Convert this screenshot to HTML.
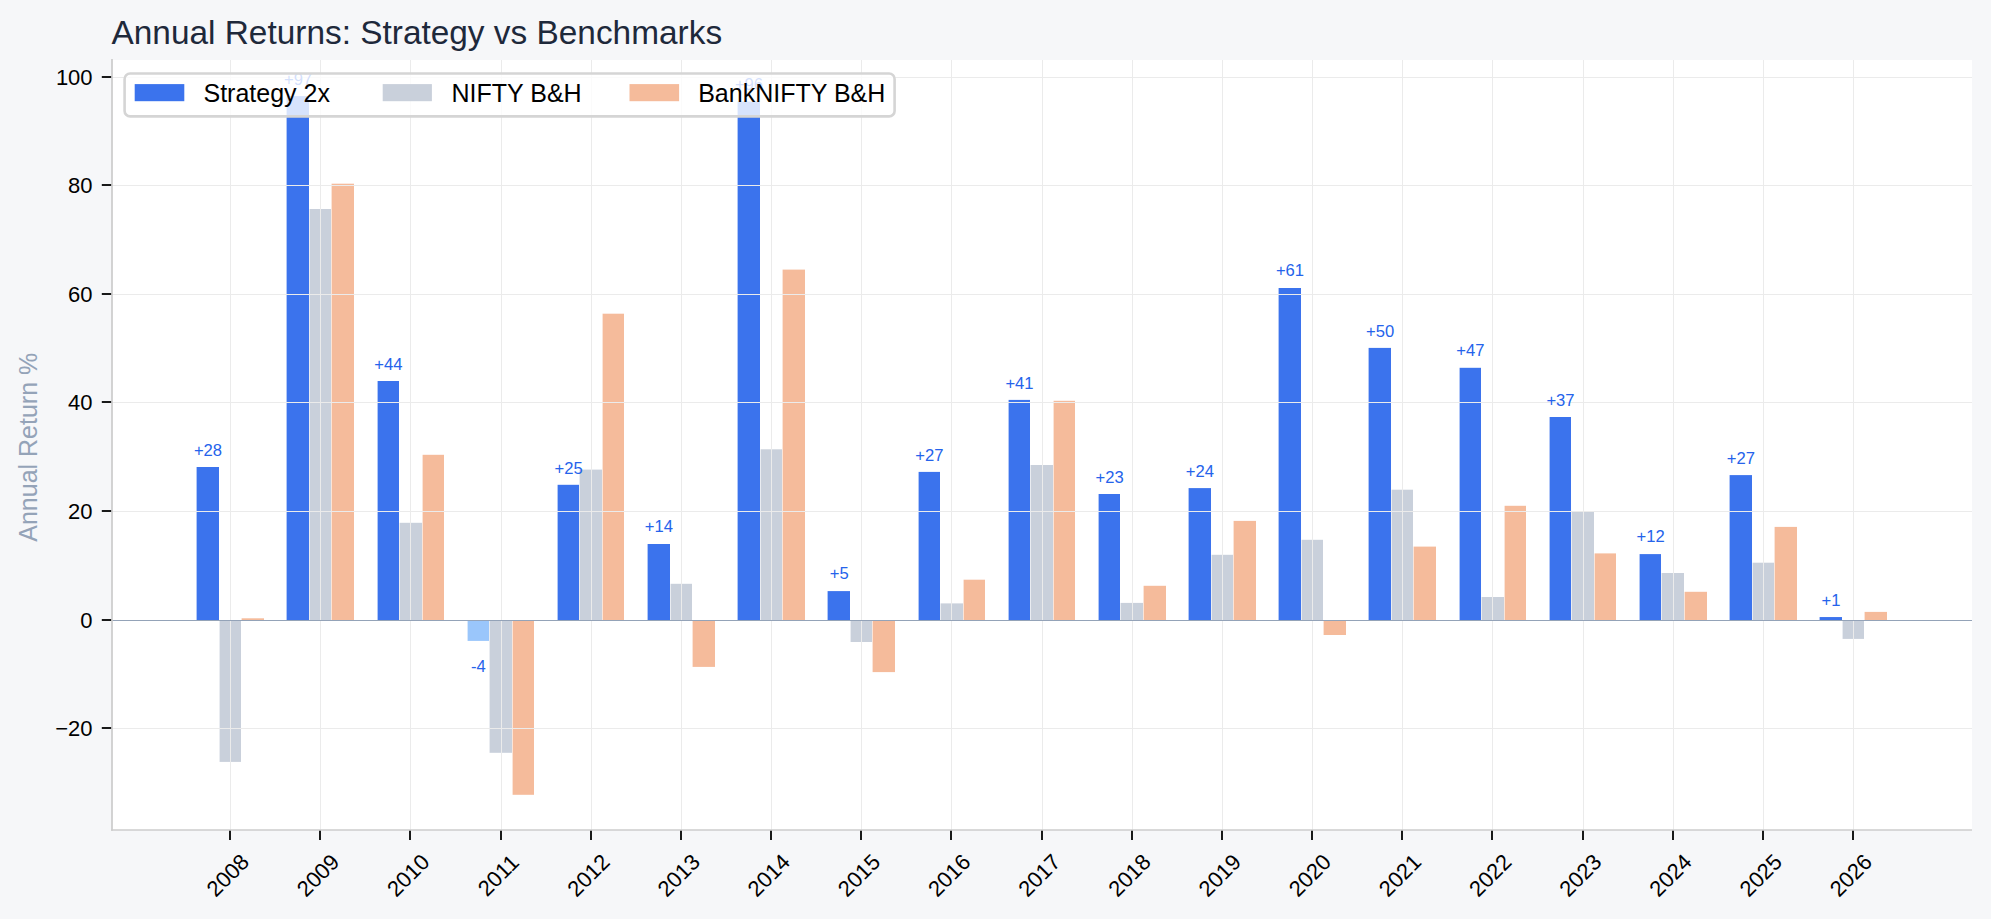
<!DOCTYPE html><html><head><meta charset="utf-8"><style>html,body{margin:0;padding:0;background:#f6f7f9;overflow:hidden}svg{display:block}text{font-family:"Liberation Sans", sans-serif;}</style></head><body>
<svg width="1991" height="919" viewBox="0 0 1991 919">
<rect x="0" y="0" width="1991" height="919" fill="#f6f7f9"/>
<rect x="112" y="60" width="1860" height="770" fill="#ffffff"/>
<rect x="197.00" y="467.00" width="22.00" height="153.00" fill="#3b73ed"/>
<rect x="196.00" y="467.00" width="1.00" height="153.00" fill="#3b73ed" fill-opacity="0.4"/>
<rect x="220.00" y="621.00" width="21.00" height="140.90" fill="#c9d0db"/>
<rect x="219.00" y="621.00" width="1.00" height="140.90" fill="#c9d0db" fill-opacity="0.4"/>
<rect x="242.00" y="618.30" width="22.00" height="1.70" fill="#f5bb9b"/>
<rect x="241.00" y="618.30" width="1.00" height="1.70" fill="#f5bb9b" fill-opacity="0.4"/>
<rect x="287.00" y="96.10" width="22.00" height="523.90" fill="#3b73ed"/>
<rect x="286.00" y="96.10" width="1.00" height="523.90" fill="#3b73ed" fill-opacity="0.4"/>
<rect x="310.00" y="209.00" width="21.00" height="411.00" fill="#c9d0db"/>
<rect x="309.00" y="209.00" width="1.00" height="411.00" fill="#c9d0db" fill-opacity="0.4"/>
<rect x="332.00" y="183.70" width="22.00" height="436.30" fill="#f5bb9b"/>
<rect x="331.00" y="183.70" width="1.00" height="436.30" fill="#f5bb9b" fill-opacity="0.4"/>
<rect x="378.00" y="381.00" width="21.00" height="239.00" fill="#3b73ed"/>
<rect x="377.00" y="381.00" width="1.00" height="239.00" fill="#3b73ed" fill-opacity="0.4"/>
<rect x="400.00" y="522.80" width="22.00" height="97.20" fill="#c9d0db"/>
<rect x="399.00" y="522.80" width="1.00" height="97.20" fill="#c9d0db" fill-opacity="0.4"/>
<rect x="423.00" y="454.80" width="21.00" height="165.20" fill="#f5bb9b"/>
<rect x="422.00" y="454.80" width="1.00" height="165.20" fill="#f5bb9b" fill-opacity="0.4"/>
<rect x="468.00" y="621.00" width="21.00" height="19.90" fill="#9ac6fb"/>
<rect x="467.00" y="621.00" width="1.00" height="19.90" fill="#9ac6fb" fill-opacity="0.4"/>
<rect x="490.00" y="621.00" width="22.00" height="131.80" fill="#c9d0db"/>
<rect x="489.00" y="621.00" width="1.00" height="131.80" fill="#c9d0db" fill-opacity="0.4"/>
<rect x="513.00" y="621.00" width="21.00" height="173.80" fill="#f5bb9b"/>
<rect x="512.00" y="621.00" width="1.00" height="173.80" fill="#f5bb9b" fill-opacity="0.4"/>
<rect x="558.00" y="484.80" width="21.00" height="135.20" fill="#3b73ed"/>
<rect x="557.00" y="484.80" width="1.00" height="135.20" fill="#3b73ed" fill-opacity="0.4"/>
<rect x="580.00" y="469.60" width="22.00" height="150.40" fill="#c9d0db"/>
<rect x="579.00" y="469.60" width="1.00" height="150.40" fill="#c9d0db" fill-opacity="0.4"/>
<rect x="603.00" y="313.70" width="21.00" height="306.30" fill="#f5bb9b"/>
<rect x="602.00" y="313.70" width="1.00" height="306.30" fill="#f5bb9b" fill-opacity="0.4"/>
<rect x="648.00" y="544.00" width="22.00" height="76.00" fill="#3b73ed"/>
<rect x="647.00" y="544.00" width="1.00" height="76.00" fill="#3b73ed" fill-opacity="0.4"/>
<rect x="671.00" y="583.80" width="21.00" height="36.20" fill="#c9d0db"/>
<rect x="670.00" y="583.80" width="1.00" height="36.20" fill="#c9d0db" fill-opacity="0.4"/>
<rect x="693.00" y="621.00" width="22.00" height="45.90" fill="#f5bb9b"/>
<rect x="692.00" y="621.00" width="1.00" height="45.90" fill="#f5bb9b" fill-opacity="0.4"/>
<rect x="738.00" y="101.50" width="22.00" height="518.50" fill="#3b73ed"/>
<rect x="737.00" y="101.50" width="1.00" height="518.50" fill="#3b73ed" fill-opacity="0.4"/>
<rect x="761.00" y="449.30" width="21.00" height="170.70" fill="#c9d0db"/>
<rect x="760.00" y="449.30" width="1.00" height="170.70" fill="#c9d0db" fill-opacity="0.4"/>
<rect x="783.00" y="269.60" width="22.00" height="350.40" fill="#f5bb9b"/>
<rect x="782.00" y="269.60" width="1.00" height="350.40" fill="#f5bb9b" fill-opacity="0.4"/>
<rect x="828.00" y="591.10" width="22.00" height="28.90" fill="#3b73ed"/>
<rect x="827.00" y="591.10" width="1.00" height="28.90" fill="#3b73ed" fill-opacity="0.4"/>
<rect x="851.00" y="621.00" width="21.00" height="21.00" fill="#c9d0db"/>
<rect x="850.00" y="621.00" width="1.00" height="21.00" fill="#c9d0db" fill-opacity="0.4"/>
<rect x="873.00" y="621.00" width="22.00" height="51.10" fill="#f5bb9b"/>
<rect x="872.00" y="621.00" width="1.00" height="51.10" fill="#f5bb9b" fill-opacity="0.4"/>
<rect x="919.00" y="471.90" width="21.00" height="148.10" fill="#3b73ed"/>
<rect x="918.00" y="471.90" width="1.00" height="148.10" fill="#3b73ed" fill-opacity="0.4"/>
<rect x="941.00" y="603.40" width="22.00" height="16.60" fill="#c9d0db"/>
<rect x="940.00" y="603.40" width="1.00" height="16.60" fill="#c9d0db" fill-opacity="0.4"/>
<rect x="964.00" y="579.70" width="21.00" height="40.30" fill="#f5bb9b"/>
<rect x="963.00" y="579.70" width="1.00" height="40.30" fill="#f5bb9b" fill-opacity="0.4"/>
<rect x="1009.00" y="399.90" width="21.00" height="220.10" fill="#3b73ed"/>
<rect x="1008.00" y="399.90" width="1.00" height="220.10" fill="#3b73ed" fill-opacity="0.4"/>
<rect x="1031.00" y="465.00" width="22.00" height="155.00" fill="#c9d0db"/>
<rect x="1030.00" y="465.00" width="1.00" height="155.00" fill="#c9d0db" fill-opacity="0.4"/>
<rect x="1054.00" y="400.80" width="21.00" height="219.20" fill="#f5bb9b"/>
<rect x="1053.00" y="400.80" width="1.00" height="219.20" fill="#f5bb9b" fill-opacity="0.4"/>
<rect x="1099.00" y="494.00" width="21.00" height="126.00" fill="#3b73ed"/>
<rect x="1098.00" y="494.00" width="1.00" height="126.00" fill="#3b73ed" fill-opacity="0.4"/>
<rect x="1121.00" y="602.90" width="22.00" height="17.10" fill="#c9d0db"/>
<rect x="1120.00" y="602.90" width="1.00" height="17.10" fill="#c9d0db" fill-opacity="0.4"/>
<rect x="1144.00" y="585.80" width="22.00" height="34.20" fill="#f5bb9b"/>
<rect x="1143.00" y="585.80" width="1.00" height="34.20" fill="#f5bb9b" fill-opacity="0.4"/>
<rect x="1189.00" y="488.10" width="22.00" height="131.90" fill="#3b73ed"/>
<rect x="1188.00" y="488.10" width="1.00" height="131.90" fill="#3b73ed" fill-opacity="0.4"/>
<rect x="1212.00" y="554.80" width="21.00" height="65.20" fill="#c9d0db"/>
<rect x="1211.00" y="554.80" width="1.00" height="65.20" fill="#c9d0db" fill-opacity="0.4"/>
<rect x="1234.00" y="520.90" width="22.00" height="99.10" fill="#f5bb9b"/>
<rect x="1233.00" y="520.90" width="1.00" height="99.10" fill="#f5bb9b" fill-opacity="0.4"/>
<rect x="1279.00" y="288.00" width="22.00" height="332.00" fill="#3b73ed"/>
<rect x="1278.00" y="288.00" width="1.00" height="332.00" fill="#3b73ed" fill-opacity="0.4"/>
<rect x="1302.00" y="539.80" width="21.00" height="80.20" fill="#c9d0db"/>
<rect x="1301.00" y="539.80" width="1.00" height="80.20" fill="#c9d0db" fill-opacity="0.4"/>
<rect x="1324.00" y="621.00" width="22.00" height="14.00" fill="#f5bb9b"/>
<rect x="1323.00" y="621.00" width="1.00" height="14.00" fill="#f5bb9b" fill-opacity="0.4"/>
<rect x="1369.00" y="347.90" width="22.00" height="272.10" fill="#3b73ed"/>
<rect x="1368.00" y="347.90" width="1.00" height="272.10" fill="#3b73ed" fill-opacity="0.4"/>
<rect x="1392.00" y="489.70" width="21.00" height="130.30" fill="#c9d0db"/>
<rect x="1391.00" y="489.70" width="1.00" height="130.30" fill="#c9d0db" fill-opacity="0.4"/>
<rect x="1414.00" y="546.60" width="22.00" height="73.40" fill="#f5bb9b"/>
<rect x="1413.00" y="546.60" width="1.00" height="73.40" fill="#f5bb9b" fill-opacity="0.4"/>
<rect x="1460.00" y="367.80" width="21.00" height="252.20" fill="#3b73ed"/>
<rect x="1459.00" y="367.80" width="1.00" height="252.20" fill="#3b73ed" fill-opacity="0.4"/>
<rect x="1482.00" y="597.00" width="22.00" height="23.00" fill="#c9d0db"/>
<rect x="1481.00" y="597.00" width="1.00" height="23.00" fill="#c9d0db" fill-opacity="0.4"/>
<rect x="1505.00" y="505.80" width="21.00" height="114.20" fill="#f5bb9b"/>
<rect x="1504.00" y="505.80" width="1.00" height="114.20" fill="#f5bb9b" fill-opacity="0.4"/>
<rect x="1550.00" y="417.00" width="21.00" height="203.00" fill="#3b73ed"/>
<rect x="1549.00" y="417.00" width="1.00" height="203.00" fill="#3b73ed" fill-opacity="0.4"/>
<rect x="1572.00" y="511.70" width="22.00" height="108.30" fill="#c9d0db"/>
<rect x="1571.00" y="511.70" width="1.00" height="108.30" fill="#c9d0db" fill-opacity="0.4"/>
<rect x="1595.00" y="553.40" width="21.00" height="66.60" fill="#f5bb9b"/>
<rect x="1594.00" y="553.40" width="1.00" height="66.60" fill="#f5bb9b" fill-opacity="0.4"/>
<rect x="1640.00" y="554.10" width="21.00" height="65.90" fill="#3b73ed"/>
<rect x="1639.00" y="554.10" width="1.00" height="65.90" fill="#3b73ed" fill-opacity="0.4"/>
<rect x="1662.00" y="573.00" width="22.00" height="47.00" fill="#c9d0db"/>
<rect x="1661.00" y="573.00" width="1.00" height="47.00" fill="#c9d0db" fill-opacity="0.4"/>
<rect x="1685.00" y="591.80" width="22.00" height="28.20" fill="#f5bb9b"/>
<rect x="1684.00" y="591.80" width="1.00" height="28.20" fill="#f5bb9b" fill-opacity="0.4"/>
<rect x="1730.00" y="475.10" width="22.00" height="144.90" fill="#3b73ed"/>
<rect x="1729.00" y="475.10" width="1.00" height="144.90" fill="#3b73ed" fill-opacity="0.4"/>
<rect x="1753.00" y="562.70" width="21.00" height="57.30" fill="#c9d0db"/>
<rect x="1752.00" y="562.70" width="1.00" height="57.30" fill="#c9d0db" fill-opacity="0.4"/>
<rect x="1775.00" y="526.90" width="22.00" height="93.10" fill="#f5bb9b"/>
<rect x="1774.00" y="526.90" width="1.00" height="93.10" fill="#f5bb9b" fill-opacity="0.4"/>
<rect x="1820.00" y="617.05" width="22.00" height="2.95" fill="#3b73ed"/>
<rect x="1819.00" y="617.05" width="1.00" height="2.95" fill="#3b73ed" fill-opacity="0.4"/>
<rect x="1843.00" y="621.00" width="21.00" height="17.90" fill="#c9d0db"/>
<rect x="1842.00" y="621.00" width="1.00" height="17.90" fill="#c9d0db" fill-opacity="0.4"/>
<rect x="1865.00" y="611.90" width="22.00" height="8.10" fill="#f5bb9b"/>
<rect x="1864.00" y="611.90" width="1.00" height="8.10" fill="#f5bb9b" fill-opacity="0.4"/>
<rect x="112" y="77" width="1860" height="1" fill="#ebebeb"/>
<rect x="112" y="185" width="1860" height="1" fill="#ebebeb"/>
<rect x="112" y="294" width="1860" height="1" fill="#ebebeb"/>
<rect x="112" y="402" width="1860" height="1" fill="#ebebeb"/>
<rect x="112" y="511" width="1860" height="1" fill="#ebebeb"/>
<rect x="112" y="728" width="1860" height="1" fill="#ebebeb"/>
<rect x="230" y="60" width="1" height="770" fill="#ebebeb"/>
<rect x="320" y="60" width="1" height="770" fill="#ebebeb"/>
<rect x="410" y="60" width="1" height="770" fill="#ebebeb"/>
<rect x="501" y="60" width="1" height="770" fill="#ebebeb"/>
<rect x="591" y="60" width="1" height="770" fill="#ebebeb"/>
<rect x="681" y="60" width="1" height="770" fill="#ebebeb"/>
<rect x="771" y="60" width="1" height="770" fill="#ebebeb"/>
<rect x="861" y="60" width="1" height="770" fill="#ebebeb"/>
<rect x="951" y="60" width="1" height="770" fill="#ebebeb"/>
<rect x="1042" y="60" width="1" height="770" fill="#ebebeb"/>
<rect x="1132" y="60" width="1" height="770" fill="#ebebeb"/>
<rect x="1222" y="60" width="1" height="770" fill="#ebebeb"/>
<rect x="1312" y="60" width="1" height="770" fill="#ebebeb"/>
<rect x="1402" y="60" width="1" height="770" fill="#ebebeb"/>
<rect x="1492" y="60" width="1" height="770" fill="#ebebeb"/>
<rect x="1583" y="60" width="1" height="770" fill="#ebebeb"/>
<rect x="1673" y="60" width="1" height="770" fill="#ebebeb"/>
<rect x="1763" y="60" width="1" height="770" fill="#ebebeb"/>
<rect x="1853" y="60" width="1" height="770" fill="#ebebeb"/>
<line x1="112" x2="1972" y1="620.45" y2="620.45" stroke="#94a3b8" stroke-width="1.1"/>
<line x1="112" x2="112" y1="59" y2="830.85" stroke="#cccccc" stroke-width="1.7"/>
<line x1="111.15" x2="1972" y1="830" y2="830" stroke="#cccccc" stroke-width="1.7"/>
<text x="207.96" y="455.80" font-size="16.6" fill="#2563eb" text-anchor="middle">+28</text>
<text x="298.13" y="84.60" font-size="16.6" fill="#2563eb" text-anchor="middle">+97</text>
<text x="388.30" y="370.00" font-size="16.6" fill="#2563eb" text-anchor="middle">+44</text>
<text x="478.47" y="671.80" font-size="16.6" fill="#2563eb" text-anchor="middle">-4</text>
<text x="568.64" y="473.80" font-size="16.6" fill="#2563eb" text-anchor="middle">+25</text>
<text x="658.81" y="532.00" font-size="16.6" fill="#2563eb" text-anchor="middle">+14</text>
<text x="748.98" y="90.20" font-size="16.6" fill="#2563eb" text-anchor="middle">+96</text>
<text x="839.15" y="578.80" font-size="16.6" fill="#2563eb" text-anchor="middle">+5</text>
<text x="929.32" y="460.80" font-size="16.6" fill="#2563eb" text-anchor="middle">+27</text>
<text x="1019.49" y="389.00" font-size="16.6" fill="#2563eb" text-anchor="middle">+41</text>
<text x="1109.66" y="483.00" font-size="16.6" fill="#2563eb" text-anchor="middle">+23</text>
<text x="1199.83" y="477.00" font-size="16.6" fill="#2563eb" text-anchor="middle">+24</text>
<text x="1290.00" y="275.80" font-size="16.6" fill="#2563eb" text-anchor="middle">+61</text>
<text x="1380.17" y="336.80" font-size="16.6" fill="#2563eb" text-anchor="middle">+50</text>
<text x="1470.34" y="355.80" font-size="16.6" fill="#2563eb" text-anchor="middle">+47</text>
<text x="1560.51" y="405.80" font-size="16.6" fill="#2563eb" text-anchor="middle">+37</text>
<text x="1650.68" y="542.00" font-size="16.6" fill="#2563eb" text-anchor="middle">+12</text>
<text x="1740.85" y="463.80" font-size="16.6" fill="#2563eb" text-anchor="middle">+27</text>
<text x="1831.02" y="605.90" font-size="16.6" fill="#2563eb" text-anchor="middle">+1</text>
<line x1="101.8" x2="111.15" y1="77" y2="77" stroke="#000" stroke-width="1.8"/>
<text x="92.6" y="85.00" font-size="22" fill="#000" text-anchor="end">100</text>
<line x1="101.8" x2="111.15" y1="185" y2="185" stroke="#000" stroke-width="1.8"/>
<text x="92.6" y="193.00" font-size="22" fill="#000" text-anchor="end">80</text>
<line x1="101.8" x2="111.15" y1="294" y2="294" stroke="#000" stroke-width="1.8"/>
<text x="92.6" y="302.00" font-size="22" fill="#000" text-anchor="end">60</text>
<line x1="101.8" x2="111.15" y1="402" y2="402" stroke="#000" stroke-width="1.8"/>
<text x="92.6" y="410.00" font-size="22" fill="#000" text-anchor="end">40</text>
<line x1="101.8" x2="111.15" y1="511" y2="511" stroke="#000" stroke-width="1.8"/>
<text x="92.6" y="519.00" font-size="22" fill="#000" text-anchor="end">20</text>
<line x1="101.8" x2="111.15" y1="620" y2="620" stroke="#000" stroke-width="1.8"/>
<text x="92.6" y="628.00" font-size="22" fill="#000" text-anchor="end">0</text>
<line x1="101.8" x2="111.15" y1="728" y2="728" stroke="#000" stroke-width="1.8"/>
<text x="92.6" y="736.00" font-size="22" fill="#000" text-anchor="end">−20</text>
<line x1="230" x2="230" y1="830.85" y2="840" stroke="#000" stroke-width="1.8"/>
<text transform="translate(227.50,875.0) rotate(-45)" x="0" y="8.0" font-size="22" fill="#000" text-anchor="middle">2008</text>
<line x1="320" x2="320" y1="830.85" y2="840" stroke="#000" stroke-width="1.8"/>
<text transform="translate(317.67,875.0) rotate(-45)" x="0" y="8.0" font-size="22" fill="#000" text-anchor="middle">2009</text>
<line x1="410" x2="410" y1="830.85" y2="840" stroke="#000" stroke-width="1.8"/>
<text transform="translate(407.84,875.0) rotate(-45)" x="0" y="8.0" font-size="22" fill="#000" text-anchor="middle">2010</text>
<line x1="501" x2="501" y1="830.85" y2="840" stroke="#000" stroke-width="1.8"/>
<text transform="translate(498.01,875.0) rotate(-45)" x="0" y="8.0" font-size="22" fill="#000" text-anchor="middle">2011</text>
<line x1="591" x2="591" y1="830.85" y2="840" stroke="#000" stroke-width="1.8"/>
<text transform="translate(588.18,875.0) rotate(-45)" x="0" y="8.0" font-size="22" fill="#000" text-anchor="middle">2012</text>
<line x1="681" x2="681" y1="830.85" y2="840" stroke="#000" stroke-width="1.8"/>
<text transform="translate(678.35,875.0) rotate(-45)" x="0" y="8.0" font-size="22" fill="#000" text-anchor="middle">2013</text>
<line x1="771" x2="771" y1="830.85" y2="840" stroke="#000" stroke-width="1.8"/>
<text transform="translate(768.52,875.0) rotate(-45)" x="0" y="8.0" font-size="22" fill="#000" text-anchor="middle">2014</text>
<line x1="861" x2="861" y1="830.85" y2="840" stroke="#000" stroke-width="1.8"/>
<text transform="translate(858.69,875.0) rotate(-45)" x="0" y="8.0" font-size="22" fill="#000" text-anchor="middle">2015</text>
<line x1="951" x2="951" y1="830.85" y2="840" stroke="#000" stroke-width="1.8"/>
<text transform="translate(948.86,875.0) rotate(-45)" x="0" y="8.0" font-size="22" fill="#000" text-anchor="middle">2016</text>
<line x1="1042" x2="1042" y1="830.85" y2="840" stroke="#000" stroke-width="1.8"/>
<text transform="translate(1039.03,875.0) rotate(-45)" x="0" y="8.0" font-size="22" fill="#000" text-anchor="middle">2017</text>
<line x1="1132" x2="1132" y1="830.85" y2="840" stroke="#000" stroke-width="1.8"/>
<text transform="translate(1129.20,875.0) rotate(-45)" x="0" y="8.0" font-size="22" fill="#000" text-anchor="middle">2018</text>
<line x1="1222" x2="1222" y1="830.85" y2="840" stroke="#000" stroke-width="1.8"/>
<text transform="translate(1219.37,875.0) rotate(-45)" x="0" y="8.0" font-size="22" fill="#000" text-anchor="middle">2019</text>
<line x1="1312" x2="1312" y1="830.85" y2="840" stroke="#000" stroke-width="1.8"/>
<text transform="translate(1309.54,875.0) rotate(-45)" x="0" y="8.0" font-size="22" fill="#000" text-anchor="middle">2020</text>
<line x1="1402" x2="1402" y1="830.85" y2="840" stroke="#000" stroke-width="1.8"/>
<text transform="translate(1399.71,875.0) rotate(-45)" x="0" y="8.0" font-size="22" fill="#000" text-anchor="middle">2021</text>
<line x1="1492" x2="1492" y1="830.85" y2="840" stroke="#000" stroke-width="1.8"/>
<text transform="translate(1489.88,875.0) rotate(-45)" x="0" y="8.0" font-size="22" fill="#000" text-anchor="middle">2022</text>
<line x1="1583" x2="1583" y1="830.85" y2="840" stroke="#000" stroke-width="1.8"/>
<text transform="translate(1580.05,875.0) rotate(-45)" x="0" y="8.0" font-size="22" fill="#000" text-anchor="middle">2023</text>
<line x1="1673" x2="1673" y1="830.85" y2="840" stroke="#000" stroke-width="1.8"/>
<text transform="translate(1670.22,875.0) rotate(-45)" x="0" y="8.0" font-size="22" fill="#000" text-anchor="middle">2024</text>
<line x1="1763" x2="1763" y1="830.85" y2="840" stroke="#000" stroke-width="1.8"/>
<text transform="translate(1760.39,875.0) rotate(-45)" x="0" y="8.0" font-size="22" fill="#000" text-anchor="middle">2025</text>
<line x1="1853" x2="1853" y1="830.85" y2="840" stroke="#000" stroke-width="1.8"/>
<text transform="translate(1850.56,875.0) rotate(-45)" x="0" y="8.0" font-size="22" fill="#000" text-anchor="middle">2026</text>
<text transform="translate(37.1,447.25) rotate(-90)" x="0" y="0" font-size="25" fill="#94a3b8" text-anchor="middle">Annual Return %</text>
<text x="111.5" y="44" font-size="33.4" fill="#1e293b">Annual Returns: Strategy vs Benchmarks</text>
<rect x="124.6" y="73.5" width="770" height="42.9" rx="5.5" ry="5.5" fill="#ffffff" fill-opacity="0.8" stroke="#d5d5d5" stroke-width="2.6"/>
<rect x="134.70" y="84.10" width="49.60" height="17.10" fill="#3b73ed"/>
<rect x="382.70" y="84.10" width="49.20" height="17.10" fill="#c9d0db"/>
<rect x="629.50" y="84.10" width="49.60" height="17.10" fill="#f5bb9b"/>
<text x="203.5" y="102.2" font-size="25" fill="#000">Strategy 2x</text>
<text x="451.5" y="102.2" font-size="25" fill="#000">NIFTY B&amp;H</text>
<text x="698.2" y="102.2" font-size="25" fill="#000">BankNIFTY B&amp;H</text>
</svg></body></html>
